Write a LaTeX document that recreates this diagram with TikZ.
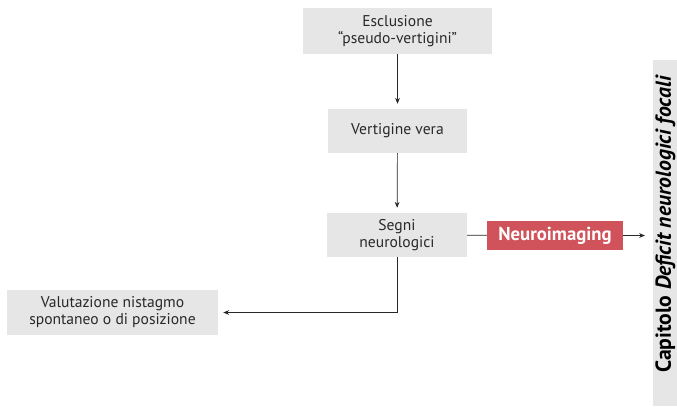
\documentclass[tikz,border=0pt]{standalone}
\usepackage{fontspec}
\setmainfont{PT Sans}
\usetikzlibrary{positioning,arrows.meta}
\definecolor{boxGray}{RGB}{230,230,231}
\definecolor{boxRed}{RGB}{208,82,90}
\definecolor{textGray}{RGB}{40,40,40}
\tikzstyle{flowchart} = [x=0.03cm, y=-0.03cm]
\tikzstyle{grayBox} = [fill=boxGray, text=textGray, align=center, inner sep=0pt, font=\fontsize{13.3}{14.5}\selectfont]
\tikzstyle{redBox} = [fill=boxRed, text=white, inner sep=0pt, font=\fontsize{16}{18}\selectfont\bfseries]
\tikzstyle{flowLine} = [line width=.6pt, color=textGray]
\tikzstyle{flowArrow} = [flowLine, -{Stealth[length=5pt,width=4pt]}, shorten >=0.15cm]

\begin{document}
\begin{tikzpicture}[flowchart]
    \useasboundingbox (0,0) rectangle (677,406);
    % boxes
    \node [grayBox, minimum width=5.67cm, minimum height=1.38cm] (esclusione) at (397.5,31) {Esclusione\\“pseudo-vertigini”};
    \node [grayBox, minimum width=4.17cm, minimum height=1.32cm] (vertigine) at (397.5,131) {Vertigine vera};
    \node [grayBox, minimum width=4.2cm, minimum height=1.32cm] (segni) at (397,235) {Segni\\neurologici};
    \node [redBox, minimum width=4.08cm, minimum height=0.87cm] (neuro) at (555,235.5) {Neuroimaging};
    \node [grayBox, minimum width=6.33cm, minimum height=1.35cm] (valutazione) at (112.5,312.5) {Valutazione nistagmo\\spontaneo o di posizione};
    % chapter strip
    \node [fill=boxGray, inner sep=0pt, minimum width=0.72cm, minimum height=10.38cm] (strip) at (665,233) {};
    \node [rotate=90, text=black, font=\fontsize{18.5}{20}\selectfont\bfseries] (capitolo) at (665.5,224) {Capitolo \textit{Deficit neurologici focali}};
    \coordinate (neuroEnd) at (645,235.5);
    \coordinate (corner) at (segni.south |- valutazione.east);
    % connectors
    \draw [flowArrow] (esclusione) -- (vertigine);
    \draw [flowArrow] (vertigine) -- (segni);
    \draw [flowLine] (segni) -- (neuro);
    \draw [flowArrow, shorten >=0pt] (neuro) -- (neuroEnd);
    \draw [flowArrow] (segni.south) -- (corner) -- (valutazione.east);
\end{tikzpicture}
\end{document}
